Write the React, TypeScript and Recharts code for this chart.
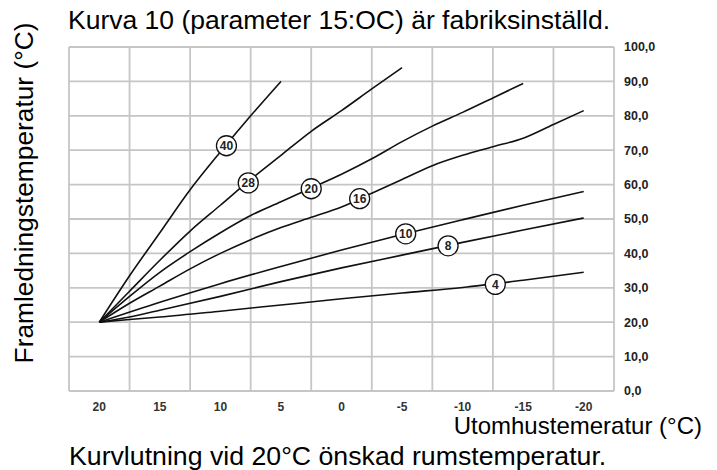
import React from 'react';
import { LineChart, Line, XAxis, YAxis, CartesianGrid, ReferenceDot, ReferenceLine } from 'recharts';

// Outdoor temperature ticks (axis runs from warm to cold)
const xTicks = [20, 15, 10, 5, 0, -5, -10, -15, -20];
const gridX = [22.5, 17.5, 12.5, 7.5, 2.5, -2.5, -7.5, -12.5, -17.5, -22.5];
const yTicks = [0, 10, 20, 30, 40, 50, 60, 70, 80, 90, 100];

// Heating curves, flow temperature per outdoor temperature
const curve40X = [20, 17.5, 15, 12.5, 10, 7.5, 5];
const curve40Y = [20, 33.5, 46, 58.5, 69.5, 80, 90];

const curve28X = [20, 17.5, 15, 12.5, 10, 7.5, 5, 2.5, 0, -2.5, -5];
const curve28Y = [20, 29, 38, 46.5, 54, 61.5, 68.5, 75.5, 81.5, 87.8, 94];

const curve20X = [20, 17.5, 15, 12.5, 10, 7.5, 5, 2.5, 0, -2.5, -5, -7.5, -10, -12.5, -15];
const curve20Y = [20, 27.5, 34.5, 40.5, 46, 51, 55, 59, 63, 67.5, 72.5, 77, 81, 85.2, 89.4];

const curve16X = [20, 17.5, 15, 12.5, 10, 7.5, 5, 2.5, 0, -2.5, -5, -7.5, -10, -12.5, -15, -17.5, -20];
const curve16Y = [20, 25.5, 30.5, 35.5, 40, 44, 47.5, 50.5, 53.5, 57.5, 61.5, 65.5, 68.5, 71, 73.5, 77.5, 81.5];

const curve10X = [20, 15, 10, 5, 0, -5, -10, -15, -20];
const curve10Y = [20, 25.8, 31.2, 36.2, 41, 45.5, 49.8, 54, 58];

const curve8X = [20, 17.5, 15, 10, 5, 0, -5, -10, -15, -20];
const curve8Y = [20, 21.5, 23.5, 27.5, 31.8, 35.8, 39.5, 43.2, 46.8, 50.3];

const curve4X = [20, 17.5, 15, 10, 5, 0, -5, -10, -15, -20];
const curve4Y = [20, 20.8, 21.5, 23.2, 25, 26.8, 28.5, 30.1, 32.2, 34.5];

// Curve badges
const curveNames = ['40', '28', '20', '16', '10', '8', '4'];
const labelX = [9.5, 7.7, 2.5, -1.5, -5.3, -8.8, -12.7];
const labelY = [71.3, 60.5, 58.8, 55.9, 45.7, 42.2, 31];

const toPoints = (xs: number[], ys: number[]) => xs.map((x, i) => ({ x, y: ys[i] }));

const curves = [
  toPoints(curve40X, curve40Y),
  toPoints(curve28X, curve28Y),
  toPoints(curve20X, curve20Y),
  toPoints(curve16X, curve16Y),
  toPoints(curve10X, curve10Y),
  toPoints(curve8X, curve8Y),
  toPoints(curve4X, curve4Y),
];

const FONT = '"Liberation Sans", Arial, sans-serif';
const GRID = '#c6c6c6';

const Badge = ({ cx, cy, text }: any) => (
  <g>
    <circle cx={cx} cy={cy} r={10} fill="#fff" stroke="#111" strokeWidth={1.3} />
    <text x={cx} y={cy} dy="0.36em" textAnchor="middle" fontSize={12} fontWeight={700} fill="#222" fontFamily={FONT}>
      {text}
    </text>
  </g>
);

const App = () => {
  return (
    <div style={{ position: 'absolute', left: 0, top: 0, width: 717, height: 470, background: '#fff', fontFamily: FONT }}>
      <LineChart width={717} height={470} margin={{ top: 47, right: 53, left: 69, bottom: 59 }}>
        <CartesianGrid stroke={GRID} strokeWidth={1.8} vertical={false} />
        <XAxis
          type="number"
          dataKey="x"
          domain={[-22.5, 22.5]}
          reversed
          ticks={xTicks}
          interval={0}
          axisLine={false}
          tickLine={false}
          tickMargin={5}
          height={20}
          tick={{ fill: '#333', fontSize: 12, fontWeight: 700, fontFamily: FONT }}
          allowDataOverflow
        />
        <YAxis
          orientation="right"
          type="number"
          domain={[0, 100]}
          ticks={yTicks}
          interval={0}
          width={50}
          axisLine={false}
          tickLine={false}
          tickMargin={4}
          tick={{ fill: '#222', fontSize: 12.5, fontWeight: 700, fontFamily: FONT, textAnchor: 'start' }}
          tickFormatter={(v: number) => v.toFixed(1).replace('.', ',')}
        />
        {/* vertical grid sits between the labelled temperatures */}
        {gridX.map((v) => (
          <ReferenceLine key={'g' + v} x={v} stroke={GRID} strokeWidth={1.8} ifOverflow="visible" />
        ))}
        {curves.map((pts, i) => (
          <Line
            key={curveNames[i]}
            data={pts}
            dataKey="y"
            type="monotone"
            stroke="#111"
            strokeWidth={1.6}
            dot={false}
            isAnimationActive={false}
          />
        ))}
        {curveNames.map((name, i) => (
          <ReferenceDot
            key={'b' + name}
            x={labelX[i]}
            y={labelY[i]}
            r={10}
            shape={(p: any) => <Badge cx={p.cx} cy={p.cy} text={name} />}
          />
        ))}
      </LineChart>
      <svg width={717} height={470} style={{ position: 'absolute', left: 0, top: 0, pointerEvents: 'none' }}>
        <text x={68} y={29} fontSize={26.5} fill="#000" fontFamily={FONT}>
          Kurva 10 (parameter 15:OC) är fabriksinställd.
        </text>
        <text
          x={33}
          y={193}
          fontSize={26.3}
          fill="#000"
          fontFamily={FONT}
          textAnchor="middle"
          transform="rotate(-90, 33, 193)"
        >
          Framledningstemperatur (°C)
        </text>
        <text x={702} y={434} fontSize={24} fill="#000" fontFamily={FONT} textAnchor="end">
          Utomhustemeratur (°C)
        </text>
        <text x={69} y={465} fontSize={26.7} fill="#000" fontFamily={FONT}>
          Kurvlutning vid 20°C önskad rumstemperatur.
        </text>
      </svg>
    </div>
  );
};

export default App;
